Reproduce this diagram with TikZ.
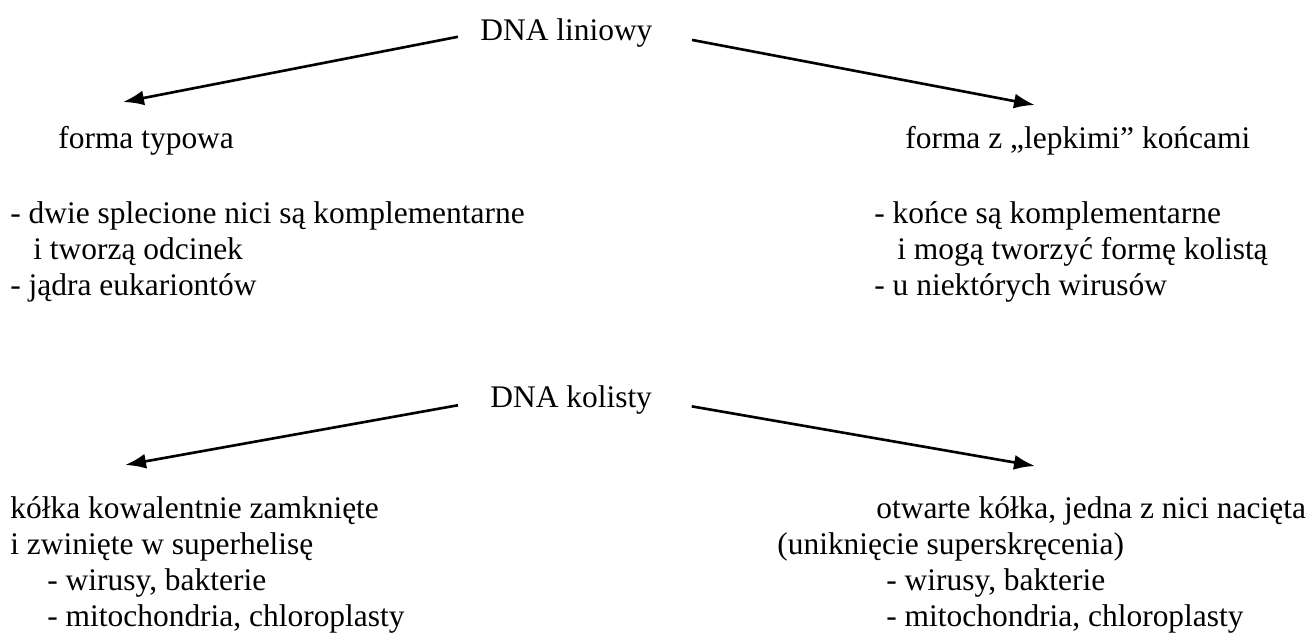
\documentclass[tikz,border=0pt]{standalone}
\usepackage{fontspec}
\setmainfont{Liberation Serif}
\usetikzlibrary{arrows.meta}

\begin{document}
\begin{tikzpicture}[x=0.02cm,y=-0.02cm,
  txt/.style={anchor=base west,inner sep=0pt,font=\fontsize{17.9}{20.5}\selectfont},
  arr/.style={-{Latex[length=0.42cm,width=0.3cm]},line width=1.5pt}]
  \useasboundingbox (0,0) rectangle (1312,633);
  % DNA liniowy
  \node[txt](lin)at(480,40){DNA liniowy};
  \node[txt](typ)at(58,148){forma typowa};
  \node[txt](lep)at(905,148){forma z „lepkimi” końcami};
  \node[txt](lt1)at(10,223){- dwie splecione nici są komplementarne};
  \node[txt](lt2)at(33,259){i tworzą odcinek};
  \node[txt](lt3)at(10,295){- jądra eukariontów};
  \node[txt](rt1)at(874,223){- końce są komplementarne};
  \node[txt](rt2)at(897,259){i mogą tworzyć formę kolistą};
  \node[txt](rt3)at(874,295){- u niektórych wirusów};
  \coordinate (a1) at (123,102);
  \coordinate (a2) at (1035,105);
  \draw[arr,shorten <=0.45cm] (lin.west)--(a1);
  \draw[arr,shorten <=0.8cm] (lin.east)--(a2);
  % DNA kolisty
  \node[txt](kol)at(490,407){DNA kolisty};
  \node[txt](lb1)at(10,518){kółka kowalentnie zamknięte};
  \node[txt](lb2)at(10,554){i zwinięte w superhelisę};
  \node[txt](lb3)at(47,590){- wirusy, bakterie};
  \node[txt](lb4)at(47,626){- mitochondria, chloroplasty};
  \node[txt](rb1)at(876,518){otwarte kółka, jedna z nici nacięta};
  \node[txt](rb2)at(777,554){(uniknięcie superskręcenia)};
  \node[txt](rb3)at(886,590){- wirusy, bakterie};
  \node[txt](rb4)at(886,626){- mitochondria, chloroplasty};
  \coordinate (b1) at (125,465);
  \coordinate (b2) at (1035,466);
  \draw[arr,shorten <=0.65cm] (kol.west)--(b1);
  \draw[arr,shorten <=0.8cm] (kol.east)--(b2);
\end{tikzpicture}
\end{document}
